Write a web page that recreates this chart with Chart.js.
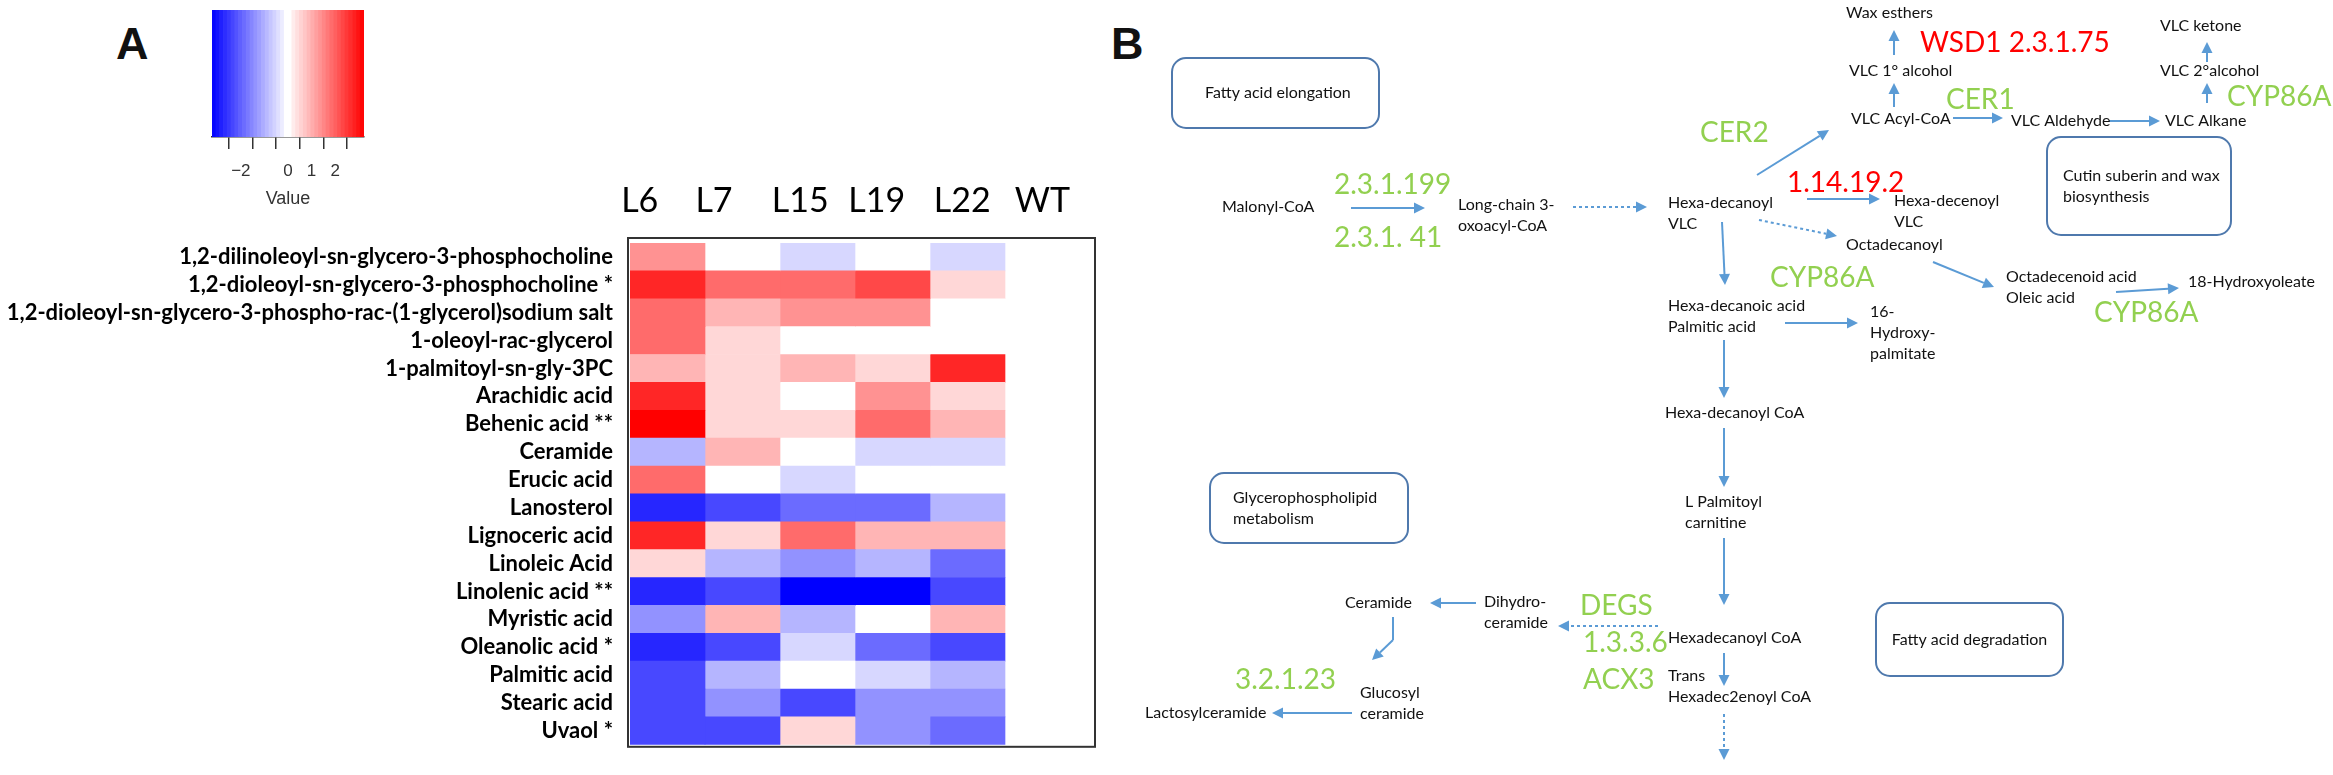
<!DOCTYPE html>
<html>
<head>
<meta charset="utf-8">
<script src="https://cdn.jsdelivr.net/npm/chart.js@4.4.1/dist/chart.umd.min.js"></script>
<style>
html, body { margin: 0; padding: 0; background: #fff; width: 2333px; height: 775px; overflow: hidden; }
canvas { position: absolute; }
.panel { position: absolute; font: bold 45px "Liberation Sans", Arial, sans-serif; line-height: 1; color: #111; }
</style>
</head>
<body>
<div class="panel" style="left:116px;top:21px">A</div>
<div class="panel" style="left:1111px;top:21px">B</div>
<canvas id="heat" width="1110" height="775" style="left:0;top:0"></canvas>
<canvas id="key" width="220" height="215" style="left:180px;top:0"></canvas>
<canvas id="path" width="1233" height="775" style="left:1100px;top:0"></canvas>
<script>
// ---- panel A: heatmap ----
const compounds = [
  '1,2-dilinoleoyl-sn-glycero-3-phosphocholine',
  '1,2-dioleoyl-sn-glycero-3-phosphocholine *',
  '1,2-dioleoyl-sn-glycero-3-phospho-rac-(1-glycerol)sodium salt',
  '1-oleoyl-rac-glycerol',
  '1-palmitoyl-sn-gly-3PC',
  'Arachidic acid',
  'Behenic acid **',
  'Ceramide',
  'Erucic acid',
  'Lanosterol',
  'Lignoceric acid',
  'Linoleic Acid',
  'Linolenic acid **',
  'Myristic acid',
  'Oleanolic acid *',
  'Palmitic acid',
  'Stearic acid',
  'Uvaol *'
];
const lines = ['L6', 'L7', 'L15', 'L19', 'L22', 'WT'];

const L6  = [1.1, 2.2, 1.5, 1.5, 0.75, 2.2, 2.6, -0.75, 1.5, -2.2, 2.2, 0.4, -2.2, -1.1, -2.2, -1.85, -1.85, -1.85];
const L7  = [0, 1.5, 0.75, 0.4, 0.4, 0.4, 0.4, 0.75, 0, -1.85, 0.4, -0.75, -1.85, 0.75, -1.85, -0.75, -1.1, -1.85];
const L15 = [-0.4, 1.5, 1.1, 0, 0.75, 0, 0.4, 0, -0.4, -1.5, 1.5, -1.1, -2.6, -0.75, -0.4, 0, -1.85, 0.4];
const L19 = [0, 1.85, 1.1, 0, 0.4, 1.1, 1.5, -0.4, 0, -1.5, 0.75, -0.75, -2.6, 0, -1.5, -0.4, -1.1, -1.1];
const L22 = [-0.4, 0.4, 0, 0, 2.2, 0.4, 0.75, -0.4, 0, -0.75, 0.75, -1.5, -1.85, 0.75, -1.85, -0.75, -1.1, -1.5];
const WT  = [0, 0, 0, 0, 0, 0, 0, 0, 0, 0, 0, 0, 0, 0, 0, 0, 0, 0];
const series = [L6, L7, L15, L19, L22, WT];

const keyTicks = [-2, -1, 0, 1, 2];
const valueMax = 2.58;

// blue - white - red
function colorFor(v) {
  if (Math.abs(v) < 0.18) return '#ffffff';
  const t = Math.min(Math.abs(v) / valueMax, 1);
  const c = Math.round(255 * (1 - t));
  return v > 0 ? `rgb(255,${c},${c})` : `rgb(${c},${c},255)`;
}

// where the column names sit (in column units)
const colLabelAt = [0.13, 1.12, 2.27, 3.29, 4.43, 5.5];

const heatBox = {
  id: 'heatBox',
  afterDraw(chart) {
    const { ctx, chartArea: a } = chart;
    ctx.save();
    ctx.strokeStyle = '#333';
    ctx.lineWidth = 2;
    ctx.strokeRect(a.left - 2, a.top - 5, a.right - a.left + 17, a.bottom - a.top + 7);
    ctx.restore();
  }
};

new Chart(document.getElementById('heat'), {
  type: 'bar',
  data: {
    labels: compounds,
    datasets: series.map((vals, i) => ({
      label: lines[i],
      data: vals.map(() => [i, i + 1]),
      backgroundColor: vals.map(colorFor),
      borderWidth: 0,
      grouped: false,
      categoryPercentage: 1,
      barPercentage: 1
    }))
  },
  options: {
    indexAxis: 'y',
    responsive: false,
    animation: false,
    layout: { padding: { left: 0, right: 30, top: 0, bottom: 10 } },
    plugins: { legend: { display: false }, tooltip: { enabled: false } },
    scales: {
      x: {
        type: 'linear', position: 'top', min: 0, max: 6,
        grid: { display: false, drawTicks: false },
        border: { display: false },
        afterBuildTicks: s => { s.ticks = colLabelAt.map(v => ({ value: v })); },
        afterFit: s => { s.height = 243; },
        ticks: {
          callback: (v, i) => lines[i],
          font: { family: 'Lato', size: 34 },
          color: '#000', padding: 22, maxRotation: 0, autoSkip: false
        }
      },
      y: {
        type: 'category',
        grid: { display: false, drawTicks: false },
        border: { display: false },
        afterFit: s => { s.width = 630; },
        ticks: {
          font: { family: 'Lato', weight: 'bold', size: 22 },
          color: '#000', padding: 17, autoSkip: false
        }
      }
    }
  },
  plugins: [heatBox]
});

// colour key
const keyBins = [];
for (let i = 0; i < 40; i++) keyBins.push(-valueMax + (i + 0.5) * (2 * valueMax / 40));

new Chart(document.getElementById('key'), {
  type: 'bar',
  data: {
    labels: keyBins,
    datasets: [{
      data: keyBins.map(() => 1),
      backgroundColor: keyBins.map(colorFor),
      borderWidth: 0,
      xAxisID: 'xc',
      categoryPercentage: 1,
      barPercentage: 1
    }]
  },
  options: {
    responsive: false,
    animation: false,
    layout: { padding: { left: 32, right: 36, top: 10, bottom: 0 } },
    plugins: { legend: { display: false }, tooltip: { enabled: false } },
    scales: {
      xc: { type: 'category', display: false },
      xv: {
        type: 'linear', position: 'bottom', min: -valueMax, max: valueMax,
        afterBuildTicks: s => { s.ticks = keyTicks.map(v => ({ value: v })); },
        afterFit: s => { s.height = 78; },
        border: { display: true, color: '#333', width: 1.5 },
        grid: { display: true, drawOnChartArea: false, drawTicks: true, tickLength: 12, color: '#333', lineWidth: 1.5 },
        ticks: {
          callback: v => v === -1 ? '' : (v < 0 ? '\u2212' + Math.abs(v) : String(v)),
          font: { family: 'Liberation Sans', size: 17 }, color: '#333', padding: 12, maxRotation: 0
        },
        title: { display: true, text: 'Value', font: { family: 'Liberation Sans', size: 18 }, color: '#333', padding: { top: 0, bottom: 5 } }
      },
      y: { type: 'linear', min: 0, max: 1, display: false }
    }
  }
});

// ---- panel B: pathway diagram (page pixel units) ----
const metabolites = [
  ['Malonyl-CoA', 1222, 207],
  ['Long-chain 3-\noxoacyl-CoA', 1458, 205],
  ['Hexa-decanoyl\nVLC', 1668, 203],
  ['VLC Acyl-CoA', 1851, 119],
  ['VLC 1\u00b0 alcohol', 1849, 71],
  ['Wax esthers', 1846, 13],
  ['VLC Aldehyde', 2011, 121],
  ['VLC Alkane', 2165, 121],
  ['VLC 2\u00b0alcohol', 2160, 71],
  ['VLC ketone', 2160, 26],
  ['Hexa-decenoyl\nVLC', 1894, 201],
  ['Octadecanoyl', 1846, 245],
  ['Hexa-decanoic acid\nPalmitic acid', 1668, 306],
  ['16-\nHydroxy-\npalmitate', 1870, 312],
  ['Octadecenoid acid\nOleic acid', 2006, 277],
  ['18-Hydroxyoleate', 2188, 282],
  ['Hexa-decanoyl CoA', 1665, 413],
  ['L Palmitoyl\ncarnitine', 1685, 502],
  ['Hexadecanoyl CoA', 1668, 638],
  ['Trans\nHexadec2enoyl CoA', 1668, 676],
  ['Dihydro-\nceramide', 1484, 602],
  ['Ceramide', 1345, 603],
  ['Glucosyl\nceramide', 1360, 693],
  ['Lactosylceramide', 1145, 713]
];
const enzymes = [
  ['2.3.1.199', 1334, 185, 'up'],
  ['2.3.1. 41', 1334, 238, 'up'],
  ['CER2', 1700, 133, 'up'],
  ['WSD1 2.3.1.75', 1920, 43, 'down'],
  ['CER1', 1946, 100, 'up'],
  ['CYP86A', 2227, 97, 'up'],
  ['1.14.19.2', 1787, 183, 'down'],
  ['CYP86A', 1770, 278, 'up'],
  ['CYP86A', 2094, 313, 'up'],
  ['DEGS', 1580, 606, 'up'],
  ['1.3.3.6', 1583, 643, 'up'],
  ['ACX3', 1583, 680, 'up'],
  ['3.2.1.23', 1235, 680, 'up']
];
// x1, y1, x2, y2, dashed
const arrows = [
  [1351, 208, 1425, 208, false],
  [1573, 207, 1647, 207, true],
  [1757, 175, 1829, 130, false],
  [1894, 107, 1894, 83, false],
  [1894, 55, 1894, 30, false],
  [1953, 118, 2003, 118, false],
  [2109, 121, 2160, 121, false],
  [2207, 103, 2207, 83, false],
  [2207, 62, 2207, 42, false],
  [1807, 199, 1880, 199, false],
  [1759, 220, 1837, 236, true],
  [1722, 222, 1725, 285, false],
  [1785, 323, 1858, 323, false],
  [1933, 262, 1994, 287, false],
  [2116, 292, 2179, 288, false],
  [1724, 340, 1724, 398, false],
  [1724, 428, 1724, 487, false],
  [1724, 538, 1724, 605, false],
  [1724, 653, 1724, 686, false],
  [1724, 714, 1724, 760, true],
  [1658, 626, 1558, 626, true],
  [1476, 603, 1430, 603, false],
  [1393, 640, 1372, 660, false],
  [1352, 713, 1272, 713, false]
];
const links = [[1393, 617, 1393, 640]];
// name, x, y, w, h, text offset (null = centred)
const pathways = [
  ['Fatty acid elongation', 1172, 58, 207, 70, 33],
  ['Glycerophospholipid\nmetabolism', 1210, 473, 198, 70, 23],
  ['Cutin suberin and wax\nbiosynthesis', 2047, 137, 184, 98, 16],
  ['Fatty acid degradation', 1876, 603, 187, 73, null]
];

const ARROW = '#5B9BD5';
const diagram = {
  id: 'diagram',
  afterDraw(chart) {
    const { ctx } = chart;
    const X = v => chart.scales.x.getPixelForValue(v);
    const Y = v => chart.scales.y.getPixelForValue(v);
    ctx.save();

    pathways.forEach(([name, x, y, w, h, off]) => {
      ctx.beginPath();
      ctx.roundRect(X(x), Y(y), X(x + w) - X(x), Y(y + h) - Y(y), 14);
      ctx.strokeStyle = '#4F79AD';
      ctx.lineWidth = 2;
      ctx.stroke();
      const parts = name.split('\n');
      ctx.font = '16px Lato';
      ctx.fillStyle = '#111';
      ctx.textBaseline = 'middle';
      ctx.textAlign = off === null ? 'center' : 'left';
      const tx = off === null ? X(x + w / 2) : X(x + off);
      parts.forEach((p, k) => ctx.fillText(p, tx, Y(y + h / 2 + (k - (parts.length - 1) / 2) * 21)));
    });

    ctx.strokeStyle = ARROW;
    ctx.fillStyle = ARROW;
    ctx.lineWidth = 2;
    links.forEach(([x1, y1, x2, y2]) => {
      ctx.beginPath(); ctx.moveTo(X(x1), Y(y1)); ctx.lineTo(X(x2), Y(y2)); ctx.stroke();
    });
    arrows.forEach(([x1, y1, x2, y2, dashed]) => {
      const ax = X(x1), ay = Y(y1), bx = X(x2), by = Y(y2);
      const ang = Math.atan2(by - ay, bx - ax);
      const hl = 11, hw = 5.5;
      const ex = bx - hl * Math.cos(ang), ey = by - hl * Math.sin(ang);
      ctx.setLineDash(dashed ? [3, 3] : []);
      ctx.beginPath(); ctx.moveTo(ax, ay); ctx.lineTo(ex, ey); ctx.stroke();
      ctx.setLineDash([]);
      ctx.beginPath();
      ctx.moveTo(bx, by);
      ctx.lineTo(ex - hw * Math.sin(ang), ey + hw * Math.cos(ang));
      ctx.lineTo(ex + hw * Math.sin(ang), ey - hw * Math.cos(ang));
      ctx.closePath(); ctx.fill();
    });

    ctx.textAlign = 'left';
    ctx.textBaseline = 'middle';
    ctx.font = '16px Lato';
    ctx.fillStyle = '#111';
    metabolites.forEach(([name, x, y]) => {
      name.split('\n').forEach((p, k) => ctx.fillText(p, X(x), Y(y + k * 21)));
    });

    ctx.font = '28px Lato';
    enzymes.forEach(([name, x, y, state]) => {
      ctx.fillStyle = state === 'up' ? '#92D050' : '#FF0000';
      ctx.fillText(name, X(x), Y(y));
    });
    ctx.restore();
  }
};

new Chart(document.getElementById('path'), {
  type: 'scatter',
  data: {
    datasets: [{
      data: metabolites.map(([, x, y]) => ({ x, y })),
      pointRadius: 0
    }]
  },
  options: {
    responsive: false,
    animation: false,
    layout: { padding: 0 },
    plugins: { legend: { display: false }, tooltip: { enabled: false } },
    scales: {
      x: { type: 'linear', min: 1100, max: 2333, display: false },
      y: { type: 'linear', min: 0, max: 775, reverse: true, display: false }
    }
  },
  plugins: [diagram]
});
</script>
</body>
</html>
